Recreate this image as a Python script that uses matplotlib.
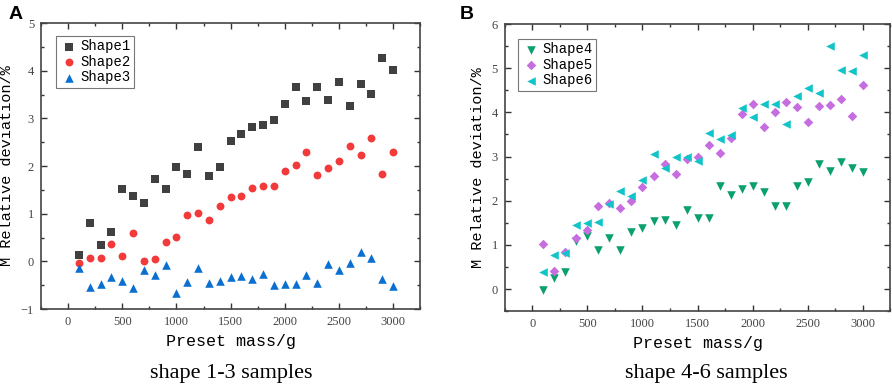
import matplotlib.pyplot as plt
import numpy as np
from matplotlib.ticker import MultipleLocator

mass = np.arange(100, 3001, 100)

shape1 = [0.14, 0.80, 0.35, 0.62, 1.52, 1.38, 1.22, 1.72, 1.52, 1.99,
          1.84, 2.39, 1.79, 1.98, 2.52, 2.67, 2.81, 2.87, 2.96, 3.30,
          3.65, 3.37, 3.66, 3.39, 3.76, 3.26, 3.73, 3.52, 4.27, 4.02]
shape2 = [-0.03, 0.07, 0.07, 0.37, 0.12, 0.60, 0.01, 0.05, 0.40, 0.52,
          0.97, 1.02, 0.87, 1.16, 1.34, 1.37, 1.54, 1.59, 1.59, 1.89,
          2.03, 2.29, 1.81, 1.96, 2.11, 2.43, 2.23, 2.59, 1.84, 2.29]
shape3 = [-0.13, -0.53, -0.48, -0.32, -0.41, -0.55, -0.18, -0.29, -0.08, -0.67,
          -0.44, -0.15, -0.45, -0.41, -0.33, -0.31, -0.38, -0.26, -0.50, -0.48,
          -0.48, -0.29, -0.45, -0.06, -0.18, -0.04, 0.20, 0.06, -0.37, -0.52]

shape4 = [-0.03, 0.26, 0.38, 1.10, 1.20, 0.89, 1.15, 0.89, 1.29, 1.38,
          1.55, 1.56, 1.44, 1.79, 1.60, 1.60, 2.34, 2.12, 2.26, 2.34,
          2.19, 1.88, 1.89, 2.33, 2.42, 2.83, 2.67, 2.88, 2.73, 2.66]
shape5 = [1.02, 0.42, 0.83, 1.15, 1.33, 1.89, 1.96, 1.83, 2.00, 2.30,
          2.57, 2.83, 2.61, 2.95, 3.00, 3.27, 3.08, 3.42, 3.97, 4.20,
          3.67, 4.00, 4.23, 4.13, 3.78, 4.15, 4.17, 4.31, 3.91, 4.62]
shape6 = [0.38, 0.78, 0.81, 1.45, 1.49, 1.53, 1.93, 2.22, 2.10, 2.46,
          3.06, 2.74, 2.99, 3.00, 2.90, 3.53, 3.40, 3.49, 4.11, 3.90,
          4.18, 4.20, 3.73, 4.37, 4.56, 4.43, 5.50, 4.97, 4.93, 5.29]

serif = 'Liberation Serif'
mono = 'Liberation Mono'

fig = plt.figure(figsize=(8.92, 3.88), dpi=100)
axA = fig.add_axes([0.046, 0.2036, 0.425, 0.737])
axB = fig.add_axes([0.566, 0.198, 0.432, 0.740])


def style(ax, ylo, yhi):
    ax.set_xlim(-250, 3250)
    ax.set_ylim(ylo, yhi)
    ax.xaxis.set_major_locator(MultipleLocator(500))
    ax.xaxis.set_minor_locator(MultipleLocator(250))
    ax.yaxis.set_major_locator(MultipleLocator(1))
    ax.yaxis.set_minor_locator(MultipleLocator(0.5))
    ax.tick_params(which='both', direction='in', top=True, right=True,
                   labelsize=9, labelcolor='#444444', color='#333333')
    ax.tick_params(which='major', length=4, width=1, pad=5)
    ax.tick_params(which='minor', length=2.5, width=1)
    for lab in ax.get_xticklabels() + ax.get_yticklabels():
        lab.set_fontfamily(serif)
    for s in ax.spines.values():
        s.set_color('#444444')
        s.set_linewidth(1.2)
    ax.set_xlabel('Preset mass/g', fontfamily=mono, fontsize=12, labelpad=4)
    ax.set_ylabel('M Relative deviation/%', fontfamily=mono, fontsize=11,
                  labelpad=5)


axA.scatter(mass, shape1, marker='s', s=28, color='#404040', label='Shape1',
            linewidths=0)
axA.scatter(mass, shape2, marker='o', s=32, color='#f23a3a', label='Shape2',
            linewidths=0)
axA.scatter(mass, shape3, marker='^', s=38, color='#0a6fd0', label='Shape3',
            linewidths=0)
style(axA, -1, 5)

axB.scatter(mass, shape4, marker='v', s=38, color='#0aa070', label='Shape4',
            linewidths=0)
axB.scatter(mass, shape5, marker='D', s=24, color='#c66ee0', label='Shape5',
            linewidths=0)
axB.scatter(mass, shape6, marker='<', s=38, color='#10c4c8', label='Shape6',
            linewidths=0)
style(axB, -0.5, 6)

for ax, anchor in [(axA, (0.04, 0.955)), (axB, (0.035, 0.948))]:
    leg = ax.legend(loc='upper left', bbox_to_anchor=anchor, fancybox=False,
                    prop={'family': mono, 'size': 10}, handletextpad=0.2,
                    borderpad=0.25, labelspacing=0.1, handlelength=1.3,
                    borderaxespad=0)
    leg.get_frame().set_edgecolor('#555555')
    leg.get_frame().set_linewidth(0.8)

fig.text(0.009, 0.985, 'A', fontsize=14, fontweight='bold',
         fontfamily='Liberation Sans', va='top')
fig.text(0.515, 0.985, 'B', fontsize=14, fontweight='bold',
         fontfamily='Liberation Sans', va='top')
fig.text(0.259, 0.012, 'shape 1-3 samples', fontsize=16, fontfamily=serif,
         ha='center', va='bottom')
fig.text(0.792, 0.012, 'shape 4-6 samples', fontsize=16, fontfamily=serif,
         ha='center', va='bottom')

fig.savefig('out.png', dpi=100)
